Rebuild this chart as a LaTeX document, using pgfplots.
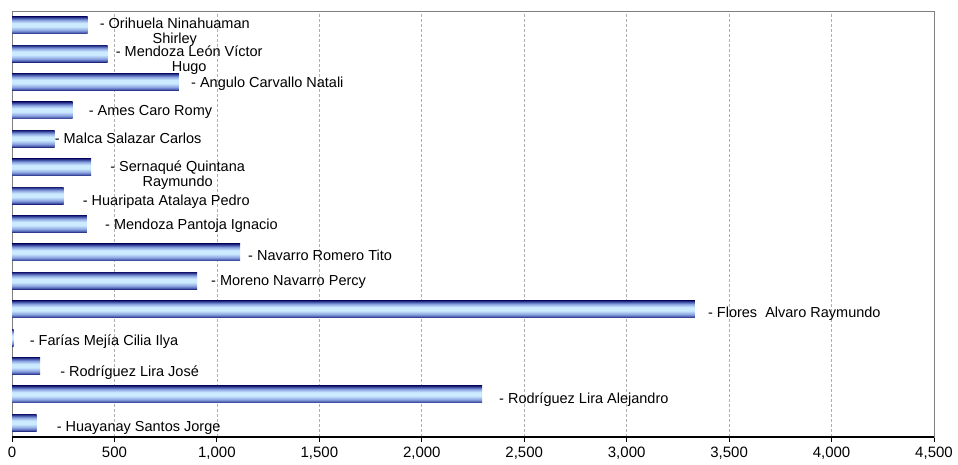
\documentclass[border=0pt]{standalone}
\usepackage{pgfplots}
\usepackage{pgfplotstable}
\pgfplotsset{compat=1.18}
\usepackage{fontspec}
\setmainfont{Liberation Sans}

\definecolor{barnavy}{RGB}{26,30,118}
\definecolor{barmid}{RGB}{70,88,170}
\definecolor{barsoft}{RGB}{140,165,225}
\definecolor{barlight}{RGB}{205,235,255}
\definecolor{framegray}{RGB}{128,128,128}
\definecolor{gridgray}{RGB}{175,175,175}

% vertical gradient of every bar: navy edges, light middle
\pgfdeclareverticalshading{barshade}{100bp}{%
  color(0bp)=(barnavy); color(25bp)=(barnavy); color(28bp)=(barmid);
  color(35bp)=(barsoft); color(46bp)=(barlight); color(56bp)=(barlight);
  color(65bp)=(barsoft); color(71bp)=(barmid); color(75bp)=(barnavy);
  color(100bp)=(barnavy)}

% label with its own offset: #1 right, #2 down (px)
\protected\def\lab#1#2#3{\hspace*{#1bp}\raisebox{-#2bp}{#3}}
\protected\def\twol#1#2{\begin{tabular}[t]{@{}c@{}}#1\\#2\end{tabular}}

% x = value, y = row (1 = bottom)
\pgfplotstableread[col sep=comma]{
x,y,label
369,15,{\lab{12}{-2}{\twol{- Orihuela Ninahuaman}{Shirley}}}
467,14,{\lab{8}{-2}{\twol{- Mendoza León Víctor}{Hugo}}}
815,13,{\lab{12}{0.5}{- Angulo Carvallo Natali}}
296,12,{\lab{16}{0}{- Ames Caro Romy}}
208,11,{\lab{0}{0}{- Malca Salazar Carlos}}
386,10,{\lab{19}{-1}{\twol{- Sernaqué Quintana}{Raymundo}}}
252,9,{\lab{19}{5}{- Huaripata Atalaya Pedro}}
366,8,{\lab{18}{0}{- Mendoza Pantoja Ignacio}}
1113,7,{\lab{8}{3}{- Navarro Romero Tito}}
903,6,{\lab{14}{0}{- Moreno Navarro Percy}}
3333,5,{\lab{13}{3}{- Flores\ \ Alvaro Raymundo}}
8,4,{\lab{16}{3}{- Farías Mejía Cilia Ilya}}
137,3,{\lab{20}{5}{- Rodríguez Lira José}}
2294,2,{\lab{17}{4}{- Rodríguez Lira Alejandro}}
120,1,{\lab{20}{4}{- Huayanay Santos Jorge}}
}\names

\begin{document}
\begin{tikzpicture}
\useasboundingbox (0,0) rectangle (958bp,465bp);
\begin{axis}[
    at={(12bp,28bp)}, anchor=south west,
    width=922bp, height=426bp, scale only axis,
    clip=false,
    xmin=0, xmax=4500,
    ymin=0.5, ymax=15.5,
    xtick={0,500,...,4500},
    ytick=\empty,
    xtick pos=bottom,
    tick align=outside,
    major tick length=5bp,
    x tick style={black, line width=0.8bp},
    scaled x ticks=false,
    /pgf/number format/.cd, 1000 sep={,}, assume math mode=true,
    /pgfplots/.cd,
    xticklabel style={font=\fontsize{15bp}{16bp}\selectfont, inner sep=0pt, yshift=-5bp},
    axis line style={framegray, line width=0.8bp},
    xmajorgrids,
    major grid style={gridgray, dash pattern=on 3bp off 2bp, line width=0.6bp},
]
% one plot per bar, so that each bar gets its own gradient
\pgfplotsinvokeforeach{0,...,14}{
\addplot[xbar, bar width=17bp, draw=none, shading=barshade,
    restrict expr to domain={\coordindex}{#1:#1},
    point meta=explicit symbolic,
    nodes near coords,
    nodes near coords style={anchor=base west, inner sep=0pt,
        font=\fontsize{14.5bp}{15bp}\selectfont, text=black,
        yshift=-5.2bp}]
    table[x=x, y=y, meta=label] {\names};
}
\draw[black, line width=2bp] (rel axis cs:0,0) -- (rel axis cs:1,0);
\end{axis}
\end{tikzpicture}
\end{document}
